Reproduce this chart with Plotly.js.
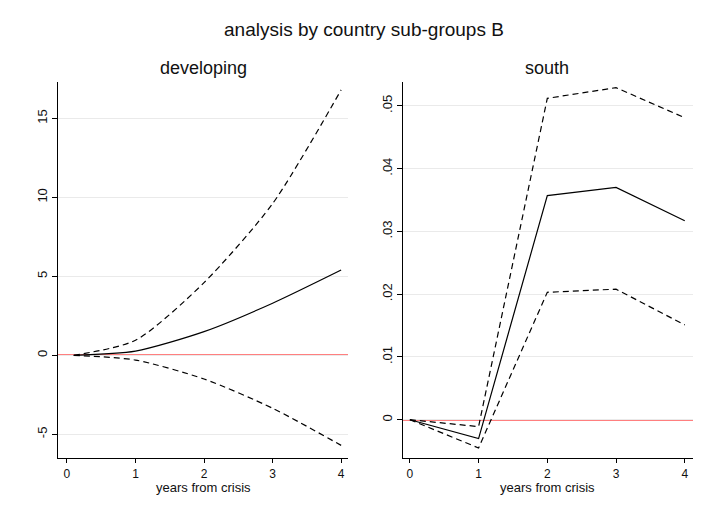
<!DOCTYPE html>
<html><head><meta charset="utf-8">
<script src="https://cdn.plot.ly/plotly-3.0.1.min.js"></script>
<style>body{margin:0;background:#fff}#chart{width:705px;height:518px}</style>
</head><body><div id="chart"></div>
<script>
// developing panel
const devYears = [0.1, 1, 2, 3, 4];
const devEstimate = [0, 0.27, 1.5, 3.3, 5.4];
const devUpper = [0, 0.95, 4.6, 9.6, 16.8];
const devLower = [0, -0.3, -1.5, -3.35, -5.7];
const devTickVals = [-5, 0, 5, 10, 15];
const devTickText = ['-5', '0', '5', '10', '15'];
// south panel
const southYears = [0, 1, 2, 3, 4];
const southEstimate = [0, -0.0030, 0.0357, 0.0370, 0.0317];
const southUpper = [0, -0.0011, 0.0512, 0.0529, 0.0481];
const southLower = [0, -0.0045, 0.0203, 0.0208, 0.0151];
const southTickVals = [0, 0.01, 0.02, 0.03, 0.04, 0.05];
const southTickText = ['0', '.01', '.02', '.03', '.04', '.05'];
const xTickVals = [0, 1, 2, 3, 4];
const xTitle = 'years from crisis';

const solid = {color: '#000', width: 1.2};
const dashed = {color: '#000', width: 1.2, dash: '6px,4px'};
const font = {family: 'Liberation Sans, Arial, sans-serif', color: '#111'};

function tr(x, y, line, xa, ya, shape) {
  return {x: x, y: y, type: 'scatter', mode: 'lines', line: Object.assign({shape: shape || 'linear'}, line),
          xaxis: xa, yaxis: ya, showlegend: false, hoverinfo: 'skip'};
}
const devLine = s => Object.assign({smoothing: 0.7}, s);
const data = [
  tr(devYears, devUpper, devLine(dashed), 'x', 'y', 'spline'),
  tr(devYears, devLower, devLine(dashed), 'x', 'y', 'spline'),
  tr(devYears, devEstimate, devLine(solid), 'x', 'y', 'spline'),
  tr(southYears, southUpper, dashed, 'x2', 'y2'),
  tr(southYears, southLower, dashed, 'x2', 'y2'),
  tr(southYears, southEstimate, solid, 'x2', 'y2')
];

const W = 705, H = 518;
const yDom = [(H - 458) / H, (H - 82) / H];
function xaxis(dom) {
  return {domain: dom, range: [-0.13, 4.1], tickvals: xTickVals, ticks: 'outside', ticklen: 4,
    tickcolor: '#000', showline: true, linecolor: '#000', linewidth: 1.2, showgrid: false, zeroline: false,
    tickfont: Object.assign({size: 12}, font)};
}
function yaxis(range, vals, text, anchor) {
  return {domain: yDom, range: range, tickvals: vals, ticktext: text, tickangle: -90, ticks: 'outside',
    ticklen: 5, tickcolor: '#000', showline: true, linecolor: '#000', linewidth: 1.2, showgrid: true,
    gridcolor: '#eaeaea', gridwidth: 1, zeroline: false, tickfont: Object.assign({size: 13}, font), anchor: anchor};
}
function ann(text, x, yTop, size) {
  return {text: text, xref: 'paper', yref: 'paper', x: x / W, y: (H - yTop) / H, borderpad: 0,
    xanchor: 'center', yanchor: 'middle', showarrow: false, font: Object.assign({size: size}, font)};
}
const layout = {
  width: W, height: H, margin: {l: 0, r: 0, t: 0, b: 0}, paper_bgcolor: '#fff', plot_bgcolor: '#fff',
  font: font,
  xaxis: Object.assign(xaxis([58 / W, 348 / W]), {anchor: 'y'}),
  yaxis: yaxis([-6.5, 17.3], devTickVals, devTickText, 'x'),
  xaxis2: Object.assign(xaxis([403 / W, 693 / W]), {anchor: 'y2', range: [-0.1, 4.12]}),
  yaxis2: yaxis([-0.0061, 0.0538], southTickVals, southTickText, 'x2'),
  shapes: [
    {type: 'line', xref: 'x domain', yref: 'y', x0: 0, x1: 1, y0: 0, y1: 0, line: {color: '#ff0000', width: 1.6}, layer: 'below'},
    {type: 'line', xref: 'x2 domain', yref: 'y2', x0: 0, x1: 1, y0: 0, y1: 0, line: {color: '#ff0000', width: 1.6}, layer: 'below'}
  ],
  annotations: [
    ann('analysis by country sub-groups B', 364, 29, 19),
    ann('developing', 204, 68, 18),
    ann('south', 547, 68, 18),
    ann(xTitle, 204, 487, 13),
    ann(xTitle, 547, 487, 13)
  ]
};
Plotly.newPlot('chart', data, layout, {displayModeBar: false, staticPlot: true});
</script></body></html>
